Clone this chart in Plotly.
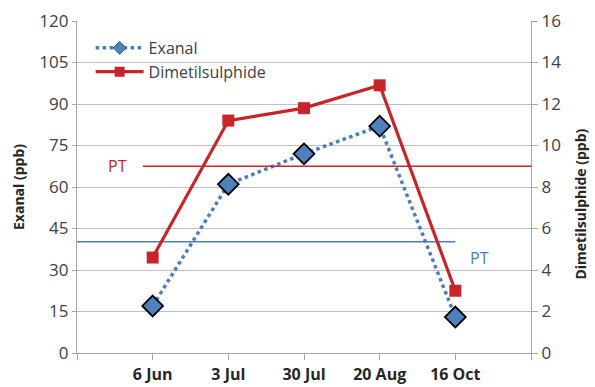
import plotly.graph_objects as go

categories = ["6 Jun", "3 Jul", "30 Jul", "20 Aug", "16 Oct"]
exanal = [17, 61, 72, 82, 13]
dimetil = [4.6, 11.2, 11.8, 12.9, 3.0]
pt_exanal = 40.2      # left axis (ppb)
pt_dimetil = 9.0      # right axis (ppb)
left_ticks = [0, 15, 30, 45, 60, 75, 90, 105, 120]
right_ticks = [0, 2, 4, 6, 8, 10, 12, 14, 16]

xpos = list(range(len(categories)))
RED = "#c8252a"
BLUE = "#4a7ebb"
FONT = "Open Sans"

fig = go.Figure()

# PT threshold lines
fig.add_trace(go.Scatter(x=[-1, len(categories) - 1], y=[pt_exanal, pt_exanal], mode="lines",
                         line=dict(color=BLUE, width=1.6), showlegend=False, hoverinfo="skip"))
fig.add_trace(go.Scatter(x=[-0.13, len(categories)], y=[pt_dimetil, pt_dimetil], mode="lines",
                         line=dict(color=RED, width=1.6), showlegend=False, hoverinfo="skip",
                         yaxis="y2"))

fig.add_trace(go.Scatter(x=xpos, y=exanal, name="Exanal", mode="lines+markers",
                         line=dict(color=BLUE, width=3.5, dash="dot"), showlegend=False,
                         marker=dict(symbol="diamond", size=16, color="#4f81bd",
                                     line=dict(color="black", width=1.8))))
fig.add_trace(go.Scatter(x=xpos, y=dimetil, name="Dimetilsulphide", mode="lines+markers",
                         line=dict(color=RED, width=3.2), showlegend=False,
                         marker=dict(symbol="square", size=12, color=RED,
                                     line=dict(color=RED, width=0)),
                         yaxis="y2"))

# legend-only entries with smaller symbols
fig.add_trace(go.Scatter(x=[None], y=[None], name="Exanal", mode="lines+markers",
                         line=dict(color=BLUE, width=3.5, dash="dot"),
                         marker=dict(symbol="diamond", size=10, color="#4f81bd",
                                     line=dict(color="#2f5f9f", width=1))))
fig.add_trace(go.Scatter(x=[None], y=[None], name="Dimetilsulphide", mode="lines+markers",
                         line=dict(color=RED, width=3.2),
                         marker=dict(symbol="square", size=10, color=RED)))

fig.update_layout(
    width=595, height=387,
    margin=dict(l=77, r=64, t=21, b=34),
    paper_bgcolor="white", plot_bgcolor="white",
    font=dict(family=FONT, size=16, color="#404040"),
    showlegend=True,
    legend=dict(x=0.03, y=0.97, xanchor="left", yanchor="top",
                bgcolor="rgba(0,0,0,0)", font=dict(size=16, color="#404040"),
                itemwidth=48, tracegroupgap=0),
    xaxis=dict(range=[-1, len(categories)], tickmode="array", automargin=False,
               tickvals=list(range(-1, len(categories) + 1)),
               ticktext=[""] + [f"<b>{c}</b>" for c in categories] + [""],
               showgrid=False, zeroline=False, showline=True, linecolor="#a6a6a6", linewidth=1.3,
               ticks="outside", ticklen=6, tickcolor="#a6a6a6", ticklabelstandoff=1,
               tickfont=dict(size=16, color="#262626")),
    yaxis=dict(range=[0, 120], tickmode="array", tickvals=left_ticks, automargin=False,
               showgrid=True, gridcolor="#c0c0c0", gridwidth=1.3,
               zeroline=False, showline=True, linecolor="#a6a6a6", linewidth=1.3,
               ticks="outside", ticklen=4, tickcolor="#a6a6a6",
               tickfont=dict(size=17, color="#404040")),
    yaxis2=dict(range=[0, 16], tickmode="array", tickvals=right_ticks, overlaying="y",
                automargin=False,
                side="right", showgrid=False, zeroline=False, showline=True,
                linecolor="#a6a6a6", linewidth=1.3, ticks="outside", ticklen=6,
                tickcolor="#a6a6a6", tickfont=dict(size=17, color="#404040")),
)

fig.add_annotation(text="<b>Exanal (ppb)</b>", xref="paper", yref="paper", x=-0.13, y=0.5,
                   xanchor="center", yanchor="middle", textangle=-90, showarrow=False,
                   font=dict(size=14, color="#262626"))
fig.add_annotation(text="<b>Dimetilsulphide (ppb)</b>", xref="paper", yref="paper", x=1.11, y=0.45,
                   xanchor="center", yanchor="middle", textangle=-90, showarrow=False,
                   font=dict(size=14, color="#262626"))
fig.add_annotation(text="PT", x=-0.47, y=pt_dimetil, yref="y2", xref="x", showarrow=False,
                   font=dict(size=16, color=RED))
fig.add_annotation(text="PT", x=4.32, y=34.5, xref="x", yref="y", showarrow=False,
                   font=dict(size=16, color=BLUE))

fig.write_html("out.html", config={"displayModeBar": False},
               post_script="document.body.style.margin='0px';")
